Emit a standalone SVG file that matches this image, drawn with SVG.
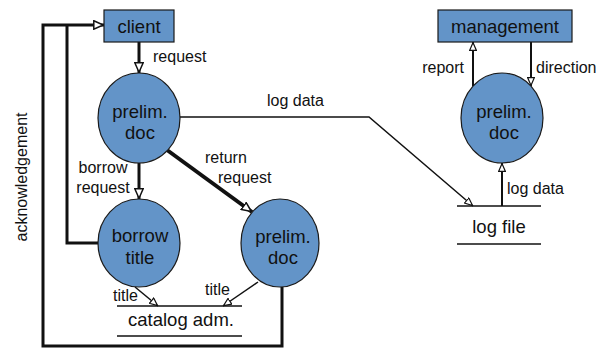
<svg xmlns="http://www.w3.org/2000/svg" width="599" height="349" viewBox="0 0 599 349">
<defs>
<style>
.node{fill:#6394c8;stroke:#1a1a1a;stroke-width:1.2}
.nt{font-family:"Liberation Sans",Arial,sans-serif;font-size:18.5px;fill:#111;text-anchor:middle}
.lb{font-family:"Liberation Sans",Arial,sans-serif;font-size:16px;fill:#111}
.store{stroke:#111;stroke-width:1.5;fill:none}
.thick{stroke:#111;stroke-width:3;fill:none}
.thin{stroke:#111;stroke-width:1.5;fill:none}
.med{stroke:#111;stroke-width:2;fill:none}
</style>
<marker id="big" viewBox="0 0 11 10" refX="11" refY="5" markerWidth="11" markerHeight="10" markerUnits="userSpaceOnUse" orient="auto">
<path d="M0.8,0.8 L10.2,5 L0.8,9.2 z" fill="#fff" stroke="#111" stroke-width="1.5"/>
</marker>
<marker id="small" viewBox="0 0 9 8" refX="9" refY="4" markerWidth="9" markerHeight="8" markerUnits="userSpaceOnUse" orient="auto">
<path d="M0.6,0.6 L8.4,4 L0.6,7.4 z" fill="#fff" stroke="#111" stroke-width="1.2"/>
</marker>
</defs>
<rect width="599" height="349" fill="#fff"/>
<g id="connectors">
<path class="thick" d="M282,287 V346 H43 V25 H104" marker-end="url(#big)"/>
<path class="thick" d="M98,243 H67 V25"/>
<path class="thick" d="M139,42 V73" marker-end="url(#big)"/>
<path class="thick" d="M139,163 V199" marker-end="url(#big)"/>
<path stroke="#111" stroke-width="4" fill="none" d="M167,150 L252,212" marker-end="url(#big)"/>
<path class="thin" d="M180,117 H369 L473,206" marker-end="url(#small)"/>
<path class="thin" d="M135,287 L158,306" marker-end="url(#small)"/>
<path class="thin" d="M258,282 L223,306" marker-end="url(#small)"/>
<path class="med" d="M473,86 V42" marker-end="url(#small)"/>
<path class="med" d="M531,42 V86" marker-end="url(#small)"/>
<path class="med" d="M502,206 V163" marker-end="url(#small)"/>
<text class="lb" x="153" y="62">request</text>
<text class="lb" x="267" y="106">log data</text>
<text class="lb" x="103" y="173" text-anchor="middle">borrow</text>
<text class="lb" x="103" y="193" text-anchor="middle">request</text>
<text class="lb" x="205" y="163">return</text>
<text class="lb" x="218" y="183">request</text>
<text class="lb" x="113" y="301">title</text>
<text class="lb" x="205" y="295">title</text>
<text class="lb" x="464" y="73" text-anchor="end">report</text>
<text class="lb" x="536" y="73">direction</text>
<text class="lb" x="507" y="194">log data</text>
<text class="lb" transform="translate(27,177) rotate(-90)" text-anchor="middle">acknowledgement</text>
</g>
<g id="client">
<rect class="node" x="104" y="10" width="70" height="32"/>
<text class="nt" x="139" y="33">client</text>
</g>
<g id="management">
<rect class="node" x="438" y="10" width="134" height="32"/>
<text class="nt" x="505" y="33">management</text>
</g>
<g id="prelim-doc-1">
<ellipse class="node" cx="139" cy="118" rx="41" ry="45"/>
<text class="nt" x="140" y="118">prelim.</text>
<text class="nt" x="140" y="139">doc</text>
</g>
<g id="borrow-title">
<ellipse class="node" cx="139" cy="243" rx="41" ry="44"/>
<text class="nt" x="140" y="242">borrow</text>
<text class="nt" x="140" y="264">title</text>
</g>
<g id="prelim-doc-2">
<ellipse class="node" cx="280" cy="243" rx="39" ry="44"/>
<text class="nt" x="283" y="243">prelim.</text>
<text class="nt" x="283" y="264">doc</text>
</g>
<g id="prelim-doc-3">
<ellipse class="node" cx="502" cy="118" rx="41" ry="45"/>
<text class="nt" x="504" y="118">prelim.</text>
<text class="nt" x="504" y="139">doc</text>
</g>
<g id="catalog-adm">
<line class="store" x1="117" y1="306" x2="242" y2="306"/>
<line class="store" x1="117" y1="336" x2="242" y2="336"/>
<text class="nt" x="181" y="326">catalog adm.</text>
</g>
<g id="log-file">
<line class="store" x1="457" y1="206" x2="541" y2="206"/>
<line class="store" x1="457" y1="244" x2="541" y2="244"/>
<text class="nt" x="499" y="233">log file</text>
</g>
</svg>
